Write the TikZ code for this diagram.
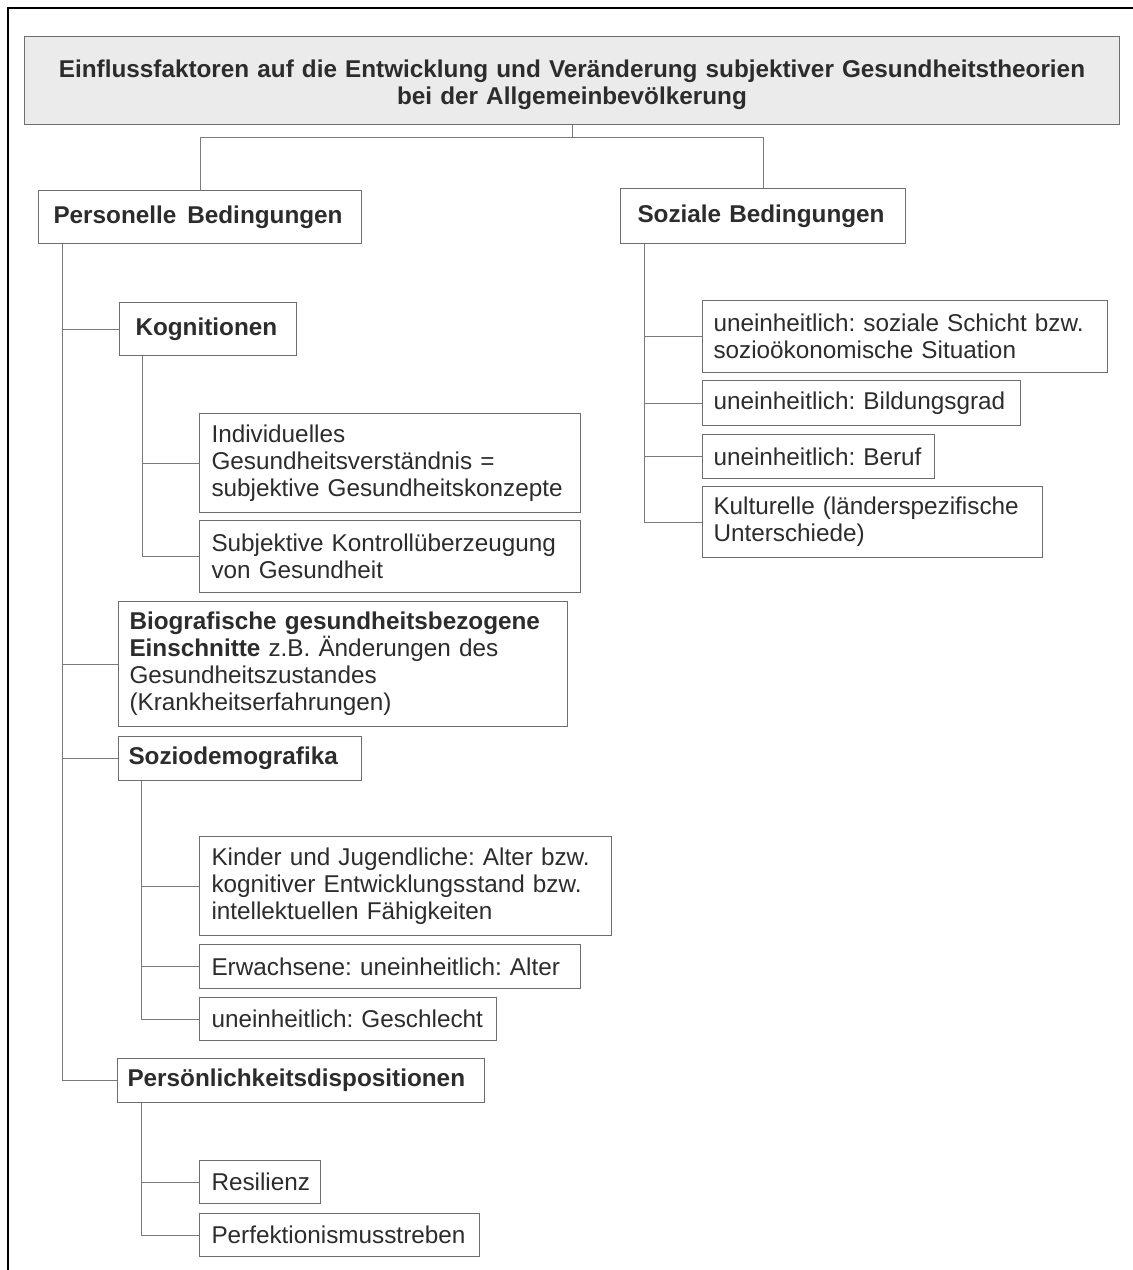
\documentclass[tikz,border=0pt]{standalone}
\usepackage{fontspec}
\setmainfont{Liberation Sans}
\frenchspacing
\definecolor{linegray}{HTML}{7A7A7A}
\definecolor{boxgray}{HTML}{6E6E6E}
\definecolor{titlefill}{HTML}{EBEBEB}
\definecolor{txt}{HTML}{2C2C2C}
\begin{document}
\begin{tikzpicture}[x=1pt,y=1pt,
  box/.style={draw=boxgray, line width=1pt, anchor=north west, inner xsep=12pt,
    inner ysep=0pt, align=left, text=txt, font=\fontsize{24.3}{27}\selectfont},
  head/.style={box, font=\fontsize{24.3}{27}\selectfont\bfseries},
  conn/.style={draw=linegray, line width=1pt}]
\useasboundingbox (0,0) rectangle (1133,-1270);

% frame
\draw[line width=2pt, black] (8,-1272) -- (8,-8) -- (1135,-8);

% title
\node[head, fill=titlefill, align=center, text width=1071pt, minimum height=88pt]
  (title) at (24,-36) {\rule{0pt}{26pt}\mbox{Einflussfaktoren auf die Entwicklung und Veränderung subjektiver Gesundheitstheorien}\\\mbox{bei der Allgemeinbevölkerung}};

% main branches
\node[head, inner xsep=15pt, text width=293pt, minimum height=53pt] (pers) at (38,-190) {\mbox{Personelle\hspace{0.45em}Bedingungen}};
\node[head, inner xsep=17pt, text width=251pt, minimum height=55pt] (soz) at (620,-188) {\mbox{Soziale Bedingungen}};

% personal conditions
\node[head, inner xsep=16pt, text width=145pt, minimum height=53pt] (kog) at (119,-302) {\mbox{Kognitionen}};
\node[box, text width=357pt, minimum height=99pt] (ind) at (199,-413)
  {\mbox{Individuelles}\\\mbox{Gesundheitsverständnis =}\\\mbox{subjektive Gesundheitskonzepte}};
\node[box, text width=357pt, minimum height=72pt] (sub) at (199,-520)
  {\mbox{Subjektive Kontrollüberzeugung}\\\mbox{von Gesundheit}};
\node[box, inner xsep=11pt, text width=427pt, minimum height=125pt] (bio) at (118,-601)
  {\mbox{\bfseries Biografische gesundheitsbezogene}\\\mbox{{\bfseries Einschnitte} z.B. Änderungen des}\\\mbox{Gesundheitszustandes}\\\mbox{(Krankheitserfahrungen)}};
\node[head, inner xsep=10pt, text width=223pt, minimum height=44pt] (sd) at (118,-736) {\mbox{Soziodemografika}};
\node[box, text width=388pt, minimum height=99pt] (kin) at (199,-836)
  {\mbox{Kinder und Jugendliche: Alter bzw.}\\\mbox{kognitiver Entwicklungsstand bzw.}\\\mbox{intellektuellen Fähigkeiten}};
\node[box, text width=357pt, minimum height=44pt] (erw) at (199,-944) {\mbox{Erwachsene: uneinheitlich: Alter}};
\node[box, text width=273pt, minimum height=43pt] (ges) at (199,-997) {\mbox{uneinheitlich: Geschlecht}};
\node[head, inner xsep=10pt, text width=347pt, minimum height=44pt] (pd) at (117,-1058) {\mbox{Persönlichkeitsdispositionen}};
\node[box, text width=97pt, minimum height=43pt] (res) at (199,-1160) {\mbox{Resilienz}};
\node[box, text width=256pt, minimum height=43pt] (per) at (199,-1213) {\mbox{Perfektionismusstreben}};

% social conditions
\node[box, inner xsep=11pt, text width=383pt, minimum height=72pt] (sch) at (702,-300)
  {\mbox{uneinheitlich: soziale Schicht bzw.}\\\mbox{sozioökonomische Situation}};
\node[box, inner xsep=11pt, text width=296pt, minimum height=45pt] (bil) at (702,-380) {\mbox{uneinheitlich: Bildungsgrad}};
\node[box, inner xsep=11pt, text width=210pt, minimum height=44pt] (ber) at (702,-434) {\mbox{uneinheitlich: Beruf}};
\node[box, inner xsep=11pt, text width=318pt, minimum height=71pt] (kul) at (702,-486)
  {\mbox{Kulturelle (länderspezifische}\\\mbox{Unterschiede)}};

% connectors
\draw[conn] (title.south) -- ++(0,-12) coordinate (split) -| (pers.north);
\draw[conn] (split) -| (soz.north);

\coordinate (ptrunk) at ([xshift=24pt]pers.south west);
\foreach \n in {kog,bio,sd,pd} \draw[conn] (ptrunk) |- (\n.west);

\coordinate (ktrunk) at ([xshift=23pt]kog.south west);
\foreach \n in {ind,sub} \draw[conn] (ktrunk) |- (\n.west);

\coordinate (strunk) at ([xshift=23pt]sd.south west);
\foreach \n in {kin,erw,ges} \draw[conn] (strunk) |- (\n.west);

\coordinate (dtrunk) at ([xshift=24pt]pd.south west);
\foreach \n in {res,per} \draw[conn] (dtrunk) |- (\n.west);

\coordinate (ztrunk) at ([xshift=24pt]soz.south west);
\foreach \n in {sch,bil,ber,kul} \draw[conn] (ztrunk) |- (\n.west);
\end{tikzpicture}
\end{document}
